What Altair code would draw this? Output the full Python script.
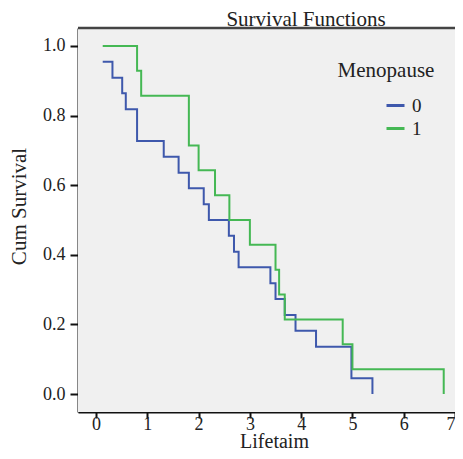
import altair as alt
import pandas as pd

# Kaplan-Meier survival steps
group_labels = ["0", "1"]
times0 = [0.13, 0.32, 0.51, 0.58, 0.80, 1.32, 1.61, 1.81, 2.10, 2.20, 2.59, 2.69, 2.78,
          3.40, 3.50, 3.68, 3.89, 4.29, 4.98, 5.39]
surv0 = [0.955, 0.909, 0.864, 0.818, 0.727, 0.682, 0.636, 0.591, 0.545, 0.500, 0.455, 0.409,
         0.364, 0.318, 0.273, 0.227, 0.182, 0.136, 0.045, 0.0]
times1 = [0.13, 0.80, 0.88, 1.81, 2.00, 2.32, 2.60, 3.00, 3.50, 3.57, 3.68, 4.81, 5.00, 6.78]
surv1 = [1.0, 0.929, 0.857, 0.714, 0.643, 0.571, 0.500, 0.429, 0.357, 0.286, 0.214, 0.143,
         0.071, 0.0]
x_ticks = [0, 1, 2, 3, 4, 5, 6, 7]
y_ticks = [0.0, 0.2, 0.4, 0.6, 0.8, 1.0]
colors = ["#3E58AC", "#45B854"]
chart_title = "Survival Functions"
legend_title_text = "Menopause"

W, H = 377, 384

rows = []
for t, s in zip(times0, surv0):
    rows.append({"Lifetaim": t, "Survival": s, "Menopause": group_labels[0]})
for t, s in zip(times1, surv1):
    rows.append({"Lifetaim": t, "Survival": s, "Menopause": group_labels[1]})
df = pd.DataFrame(rows)

FONT = "Liberation Serif"

frame_df = pd.DataFrame({"k": [0]})
plot_bg = alt.Chart(frame_df).mark_rect(color="#F0F0F0").encode(
    x=alt.value(0), x2=alt.value(W), y=alt.value(0), y2=alt.value(H))
top_line = alt.Chart(frame_df).mark_rule(color="#444", strokeWidth=2.5).encode(
    x=alt.value(0), x2=alt.value(W), y=alt.value(0))

lines = alt.Chart(df).mark_line(interpolate="step-after", strokeWidth=2).encode(
    x=alt.X("Lifetaim:Q",
            scale=alt.Scale(domain=[-0.352, 7.0], nice=False, zero=False),
            axis=alt.Axis(values=x_ticks, format="d", title="Lifetaim",
                          titleX=196, titleY=35, titleBaseline="alphabetic",
                          titleFontSize=20, labelFontSize=18, tickSize=6,
                          labelPadding=-3,
                          labelAlign=alt.ExprRef("datum.value == 7 ? 'right' : 'center'"))),
    y=alt.Y("Survival:Q",
            scale=alt.Scale(domain=[-0.0517, 1.0517], nice=False, zero=False),
            axis=alt.Axis(values=y_ticks, format=".1f", title="Cum Survival",
                          titleX=-59, titleY=178, titleBaseline="middle",
                          titleAlign="center", titleAngle=270,
                          titleFontSize=21, labelFontSize=18, tickSize=8,
                          labelPadding=5)),
    color=alt.Color("Menopause:N",
                    scale=alt.Scale(domain=group_labels, range=colors),
                    legend=alt.Legend(title=None, orient="none", legendX=307, legendY=67,
                                      symbolType="stroke", symbolSize=324,
                                      symbolStrokeWidth=3, labelFontSize=19,
                                      labelFont=FONT, labelColor="#222",
                                      labelOffset=6, rowPadding=2, padding=0)),
)

texts = pd.DataFrame({"t": [legend_title_text, chart_title],
                      "px": [308, 228], "py": [49, -2]})
text_layer = alt.Chart(texts).mark_text(
    font=FONT, fontSize=21, color="#222", align="center", baseline="alphabetic"
).encode(x=alt.X("px:Q", scale=None), y=alt.Y("py:Q", scale=None), text="t:N")

chart = alt.layer(plot_bg, top_line, lines, text_layer).properties(
    width=W, height=H,
    background="white",
    autosize=alt.AutoSizeParams(type="none"),
    padding={"left": 70, "top": 20, "right": 0, "bottom": 39},
).configure_view(
    stroke=None
).configure_axis(
    labelFont=FONT, titleFont=FONT, labelColor="#222", titleColor="#222",
    titleFontWeight="normal", domainColor="#111", domainWidth=2,
    tickColor="#111", tickWidth=2, grid=False
)

chart.save("out.html", embed_options={"renderer": "svg", "actions": False})
